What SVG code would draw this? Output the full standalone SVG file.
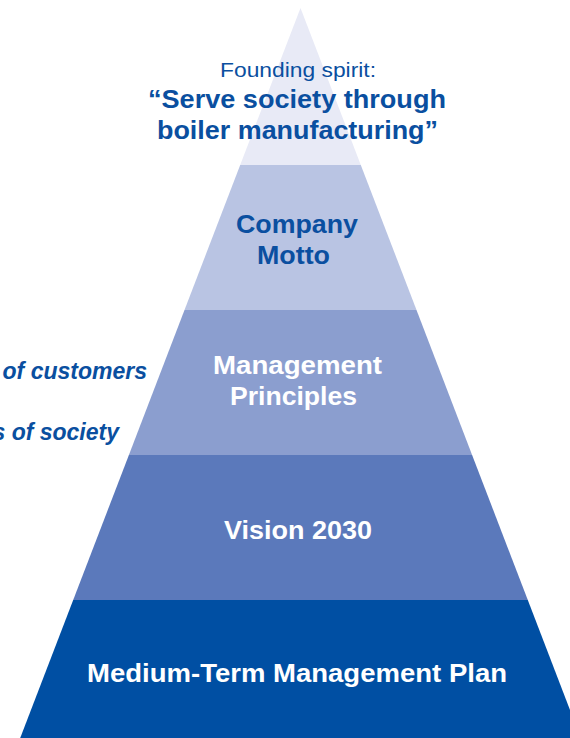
<svg xmlns="http://www.w3.org/2000/svg" width="570" height="738" viewBox="0 0 570 738">
  <style>
    .t { font-family: "Liberation Sans", Arial, Helvetica, sans-serif; text-anchor: middle; }
    .b { font-weight: bold; font-size: 25px; }
    .blue { fill: #0a4fa0; }
    .white { fill: #ffffff; }
    .side { font-family: "Liberation Sans", Arial, Helvetica, sans-serif; font-weight: bold; font-style: italic; font-size: 23px; fill: #0a4fa0; text-anchor: end; }
  </style>
  <rect width="570" height="738" fill="#ffffff"/>
  <g id="founding-spirit">
    <polygon points="300.5,8 360.8,165 240.2,165" fill="#e8eaf6"/>
    <text class="t blue" x="298" y="77" font-size="20" textLength="156" lengthAdjust="spacingAndGlyphs">Founding spirit:</text>
    <text class="t b blue" x="297" y="108" textLength="298" lengthAdjust="spacingAndGlyphs">“Serve society through</text>
    <text class="t b blue" x="297.5" y="139" textLength="281" lengthAdjust="spacingAndGlyphs">boiler manufacturing”</text>
  </g>
  <g id="company-motto">
    <polygon points="240.2,165 360.8,165 416.5,310 184.5,310" fill="#b9c4e3"/>
    <text class="t b blue" x="297" y="233" textLength="122" lengthAdjust="spacingAndGlyphs">Company</text>
    <text class="t b blue" x="293.5" y="264" textLength="73" lengthAdjust="spacingAndGlyphs">Motto</text>
  </g>
  <g id="management-principles">
    <polygon points="184.5,310 416.5,310 472.1,455 128.9,455" fill="#8b9ecf"/>
    <text class="t b white" x="297.5" y="374" textLength="169" lengthAdjust="spacingAndGlyphs">Management</text>
    <text class="t b white" x="293.5" y="405" textLength="127" lengthAdjust="spacingAndGlyphs">Principles</text>
  </g>
  <g id="vision-2030">
    <polygon points="128.9,455 472.1,455 527.8,600 73.2,600" fill="#5b79bb"/>
    <text class="t b white" x="298" y="539" textLength="148" lengthAdjust="spacingAndGlyphs">Vision 2030</text>
  </g>
  <g id="medium-term-plan">
    <polygon points="73.2,600 527.8,600 580.8,738 20.2,738" fill="#004fa3"/>
    <text class="t b white" x="297" y="682" textLength="420" lengthAdjust="spacingAndGlyphs">Medium-Term Management Plan</text>
  </g>
  <g id="side-labels">
    <text class="side" x="147" y="379">of customers</text>
    <text class="side" x="119" y="440">s of society</text>
  </g>
</svg>
